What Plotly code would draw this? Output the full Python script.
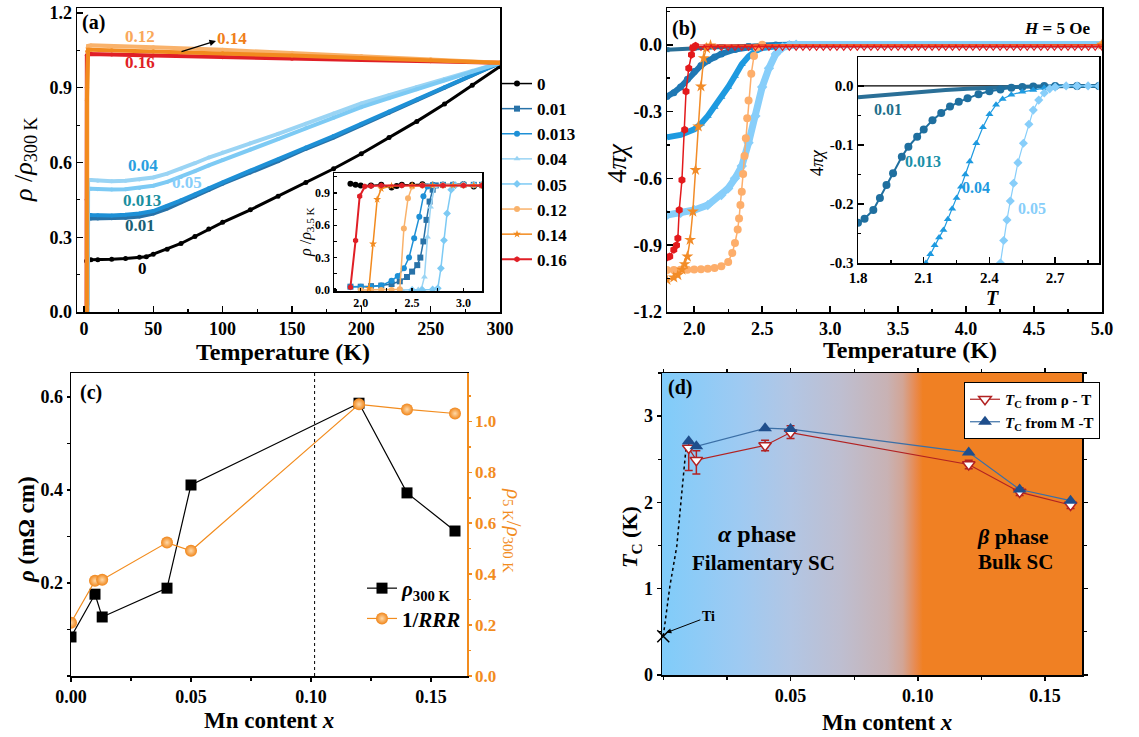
import plotly.graph_objects as go

W, H = 1139, 737
def px(x): return x / W
def py(y): return 1 - y / H

SERIF = '"Liberation Serif", "Times New Roman", Times, serif'

# ---------------- Panel (a) data: rho/rho300K vs T ----------------
labels_x = ["0", "0.01", "0.013", "0.04", "0.05", "0.12", "0.14", "0.16"]
col_a = ["#000000", "#2872A8", "#1E90D6", "#9AD4F4", "#7DCAF4", "#F9B26B", "#F28A1E", "#E01F26"]
sym_a = ["circle", "square", "circle", "triangle-up", "diamond", "circle", "star", "hexagon"]

Ta_0 = [1.9, 3, 5, 10, 20, 30, 40, 45, 50, 60, 70, 80, 90, 100, 120, 140, 160, 180, 200, 220, 240, 260, 280, 300]
Ra_0 = [0.205, 0.21, 0.21, 0.21, 0.212, 0.215, 0.22, 0.222, 0.232, 0.252, 0.275, 0.303, 0.333, 0.36, 0.41, 0.465, 0.52, 0.575, 0.635, 0.70, 0.765, 0.835, 0.91, 0.985]
Ta_001 = [1.9, 2.4, 2.6, 2.7, 3, 5, 10, 20, 30, 40, 50, 60, 70, 80, 90, 100, 120, 140, 160, 180, 200, 220, 240, 260, 280, 300]
Ra_001 = [0.01, 0.03, 0.17, 0.36, 0.375, 0.375, 0.375, 0.376, 0.378, 0.383, 0.395, 0.415, 0.44, 0.465, 0.49, 0.515, 0.56, 0.605, 0.655, 0.70, 0.75, 0.80, 0.85, 0.90, 0.95, 1.0]
Ta_0013 = [1.9, 2.3, 2.5, 2.65, 3, 5, 10, 20, 30, 40, 50, 60, 70, 80, 90, 100, 120, 140, 160, 180, 200, 220, 240, 260, 280, 300]
Ra_0013 = [0.01, 0.035, 0.18, 0.38, 0.39, 0.389, 0.388, 0.387, 0.39, 0.395, 0.405, 0.425, 0.448, 0.472, 0.497, 0.52, 0.567, 0.612, 0.66, 0.706, 0.755, 0.805, 0.853, 0.902, 0.951, 1.0]
Ta_004 = [1.9, 2.5, 2.6, 2.65, 2.75, 3, 5, 10, 20, 30, 40, 50, 60, 70, 80, 90, 100, 120, 140, 160, 180, 200, 220, 240, 260, 280, 300]
Ra_004 = [0.0, 0.0, 0.06, 0.26, 0.52, 0.53, 0.53, 0.527, 0.525, 0.527, 0.532, 0.54, 0.555, 0.575, 0.597, 0.62, 0.64, 0.677, 0.715, 0.755, 0.797, 0.837, 0.87, 0.903, 0.935, 0.968, 1.0]
Ta_005 = [1.9, 2.6, 2.78, 2.84, 2.92, 3, 5, 10, 20, 30, 40, 50, 60, 70, 80, 90, 100, 120, 140, 160, 180, 200, 220, 240, 260, 280, 300]
Ra_005 = [0.0, 0.0, 0.10, 0.35, 0.48, 0.495, 0.495, 0.493, 0.492, 0.493, 0.498, 0.507, 0.522, 0.542, 0.565, 0.588, 0.61, 0.652, 0.694, 0.737, 0.78, 0.822, 0.858, 0.894, 0.93, 0.965, 1.0]
Ta_012 = [1.9, 2.38, 2.45, 2.6, 3, 5, 20, 50, 100, 150, 200, 250, 300]
Ra_012 = [0.0, 0.01, 0.9, 1.06, 1.068, 1.07, 1.068, 1.062, 1.052, 1.04, 1.027, 1.014, 1.0]
Ta_014 = [1.9, 2.08, 2.16, 2.3, 3, 5, 20, 50, 100, 150, 200, 250, 300]
Ra_014 = [0.0, 0.01, 0.85, 1.045, 1.052, 1.052, 1.05, 1.046, 1.038, 1.029, 1.019, 1.01, 1.0]
Ta_016 = [1.9, 1.95, 2.0, 2.1, 3, 5, 20, 50, 100, 150, 200, 250, 300]
Ra_016 = [0.02, 0.45, 0.9, 1.03, 1.035, 1.035, 1.033, 1.029, 1.022, 1.016, 1.011, 1.006, 1.0]
main_a = [(Ta_0, Ra_0), (Ta_001, Ra_001), (Ta_0013, Ra_0013), (Ta_004, Ra_004),
          (Ta_005, Ra_005), (Ta_012, Ra_012), (Ta_014, Ra_014), (Ta_016, Ra_016)]
draw_order_a = [0, 1, 2, 3, 4, 7, 5, 6]

# inset (a): rho/rho3.5K near Tc
Ti_0 = [1.9, 1.95, 2.0, 2.1, 2.2, 2.3, 2.35, 2.4, 2.5, 2.6, 2.7, 2.8, 2.9, 3.0, 3.1, 3.18]
Ri_0 = [0.985, 0.975, 0.97, 0.97, 0.975, 0.95, 0.965, 0.975, 0.975, 0.98, 0.975, 0.975, 0.975, 0.98, 0.96, 0.97]
Ti_001 = [1.9, 2.0, 2.1, 2.2, 2.3, 2.38, 2.45, 2.5, 2.55, 2.58, 2.61, 2.64, 2.67, 2.7, 2.73, 2.8, 2.9, 3.0, 3.1, 3.18]
Ri_001 = [0.03, 0.03, 0.035, 0.04, 0.055, 0.08, 0.12, 0.17, 0.23, 0.30, 0.45, 0.65, 0.82, 0.93, 0.97, 0.975, 0.975, 0.975, 0.975, 0.975]
Ti_0013 = [1.9, 2.0, 2.1, 2.2, 2.3, 2.36, 2.42, 2.47, 2.52, 2.57, 2.61, 2.65, 2.7, 2.8, 2.9, 3.0, 3.1, 3.18]
Ri_0013 = [0.03, 0.03, 0.03, 0.04, 0.085, 0.13, 0.2, 0.30, 0.48, 0.68, 0.87, 0.96, 0.975, 0.975, 0.975, 0.975, 0.975, 0.975]
Ti_004 = [2.4, 2.5, 2.56, 2.59, 2.62, 2.65, 2.68, 2.72, 2.8, 2.9, 3.0, 3.1, 3.18]
Ri_004 = [0.0, 0.0, 0.003, 0.01, 0.12, 0.49, 0.77, 0.96, 0.975, 0.975, 0.975, 0.975, 0.975]
Ti_005 = [2.5, 2.6, 2.7, 2.75, 2.78, 2.81, 2.84, 2.88, 2.92, 3.0, 3.1, 3.18]
Ri_005 = [0.0, 0.0, 0.005, 0.015, 0.20, 0.46, 0.71, 0.93, 0.97, 0.975, 0.975, 0.975]
Ti_012 = [2.0, 2.1, 2.2, 2.3, 2.38, 2.42, 2.46, 2.5, 2.6, 2.8, 3.0, 3.18]
Ri_012 = [0.0, 0.0, 0.0, 0.0, 0.006, 0.57, 0.85, 0.96, 0.97, 0.97, 0.97, 0.97]
Ti_014 = [2.08, 2.12, 2.16, 2.2, 2.3, 2.5, 2.7, 2.9, 3.1, 3.18]
Ri_014 = [0.015, 0.427, 0.84, 0.94, 0.965, 0.97, 0.97, 0.97, 0.97, 0.97]
Ti_016 = [1.90, 1.95, 1.99, 2.04, 2.1, 2.2, 2.4, 2.6, 2.8, 3.0, 3.18]
Ri_016 = [0.025, 0.458, 0.87, 0.96, 0.965, 0.97, 0.97, 0.97, 0.97, 0.97, 0.97]
inset_a = [(Ti_0, Ri_0), (Ti_001, Ri_001), (Ti_0013, Ri_0013), (Ti_004, Ri_004),
           (Ti_005, Ri_005), (Ti_012, Ri_012), (Ti_014, Ri_014), (Ti_016, Ri_016)]

# ---------------- Panel (b) data: 4*pi*chi vs T ----------------
col_b = {"0.01": "#2A6F97", "0.013": "#1F78B4", "0.04": "#1E9AE0", "0.05": "#87CEFA",
         "0.12": "#FDAE6B", "0.14": "#F28C28", "0.16": "#E31A1C"}
Tb_001 = [1.8, 2.0, 2.2, 2.4, 2.6, 2.7, 5.0]
Xb_001 = [-0.022, -0.015, -0.009, -0.005, -0.002, 0.0, 0.0]
Tb_0013 = [1.8, 1.85, 1.9, 1.95, 2.0, 2.05, 2.1, 2.15, 2.2, 2.3, 2.4, 2.5, 2.6, 2.7, 5.0]
Xb_0013 = [-0.232, -0.215, -0.19, -0.155, -0.12, -0.093, -0.072, -0.055, -0.041, -0.021, -0.009, -0.003, -0.001, 0.0, 0.0]
Tb_004 = [1.8, 1.9, 2.0, 2.05, 2.1, 2.15, 2.2, 2.25, 2.3, 2.35, 2.4, 2.45, 2.5, 2.6, 2.7, 5.0]
Xb_004 = [-0.415, -0.405, -0.38, -0.355, -0.32, -0.28, -0.235, -0.19, -0.14, -0.088, -0.052, -0.028, -0.015, -0.007, 0.0, 0.0]
Tb_005 = [1.8, 1.9, 2.0, 2.1, 2.2, 2.25, 2.3, 2.35, 2.4, 2.45, 2.5, 2.55, 2.6, 2.65, 2.7, 2.75, 5.0]
Xb_005 = [-0.765, -0.755, -0.742, -0.72, -0.675, -0.645, -0.6, -0.545, -0.44, -0.32, -0.19, -0.105, -0.041, -0.012, -0.002, 0.0, 0.0]
Tb_012 = [1.8, 1.85, 1.9, 1.95, 2.0, 2.05, 2.1, 2.15, 2.2, 2.25, 2.28, 2.30, 2.32, 2.33, 2.34, 2.35, 2.36, 2.37, 2.38, 2.39, 2.40, 2.42, 2.44, 2.46, 2.5, 5.0]
Xb_012 = [-1.011, -1.011, -1.010, -1.010, -1.009, -1.008, -1.006, -1.002, -0.995, -0.975, -0.935, -0.89, -0.83, -0.78, -0.72, -0.66, -0.58, -0.5, -0.42, -0.33, -0.25, -0.13, -0.05, -0.012, 0.0, 0.0]
Tb_014 = [1.8, 1.85, 1.88, 1.91, 1.93, 1.95, 1.97, 1.99, 2.01, 2.03, 2.05, 2.07, 2.09, 2.12, 5.0]
Xb_014 = [-1.056, -1.045, -1.034, -1.01, -0.985, -0.951, -0.876, -0.749, -0.562, -0.367, -0.187, -0.06, -0.015, -0.003, 0.0]
Tb_016 = [1.8, 1.82, 1.85, 1.87, 1.88, 1.89, 1.91, 1.93, 1.94, 1.96, 1.98, 1.99, 2.01]
Xb_016 = [-0.955, -0.951, -0.921, -0.9, -0.869, -0.742, -0.607, -0.382, -0.21, -0.105, -0.045, -0.015, -0.005]
Tb_016n = [2.0, 2.05, 2.1, 2.15, 2.2, 2.25, 2.3, 2.35, 2.4, 2.45, 2.5, 2.55, 2.6, 2.65, 2.7, 2.75, 2.8, 2.85, 2.9, 2.95,
           3.0, 3.05, 3.1, 3.15, 3.2, 3.25, 3.3, 3.35, 3.4, 3.45, 3.5, 3.55, 3.6, 3.65, 3.7, 3.75, 3.8, 3.85, 3.9, 3.95,
           4.0, 4.05, 4.1, 4.15, 4.2, 4.25, 4.3, 4.35, 4.4, 4.45, 4.5, 4.55, 4.6, 4.65, 4.7, 4.75, 4.8, 4.85, 4.9, 4.95, 5.0]
Xb_016n = [-0.009] * len(Tb_016n)

# inset (b)
Tbi_001 = [1.8, 1.9, 2.0, 2.1, 2.2, 2.3, 2.4, 2.5, 2.6, 2.7, 2.8, 2.9]
Xbi_001 = [-0.019, -0.016, -0.012, -0.009, -0.007, -0.005, -0.003, -0.002, -0.001, 0.0, 0.0, 0.0]
Tbi_0013 = [1.8, 1.83, 1.87, 1.9, 1.93, 1.96, 2.0, 2.03, 2.07, 2.1, 2.14, 2.18, 2.22, 2.26, 2.3, 2.35, 2.4, 2.45, 2.5, 2.55, 2.6, 2.65, 2.7, 2.8, 2.9]
Xbi_0013 = [-0.232, -0.225, -0.21, -0.19, -0.168, -0.148, -0.12, -0.103, -0.086, -0.074, -0.058, -0.046, -0.035, -0.027, -0.021, -0.014, -0.009, -0.006, -0.003, -0.002, -0.001, 0.0, 0.0, 0.0, 0.0]
Tbi_004 = [2.11, 2.13, 2.15, 2.17, 2.19, 2.21, 2.23, 2.25, 2.27, 2.29, 2.31, 2.34, 2.37, 2.40, 2.43, 2.46, 2.5, 2.55, 2.6, 2.65, 2.7, 2.8, 2.9]
Xbi_004 = [-0.30, -0.285, -0.27, -0.257, -0.244, -0.226, -0.208, -0.19, -0.171, -0.15, -0.128, -0.097, -0.07, -0.048, -0.032, -0.022, -0.015, -0.01, -0.007, -0.003, 0.0, 0.0, 0.0]
Tbi_005 = [2.45, 2.465, 2.48, 2.495, 2.51, 2.53, 2.555, 2.58, 2.60, 2.625, 2.65, 2.675, 2.7, 2.75, 2.8, 2.85, 2.9]
Xbi_005 = [-0.30, -0.262, -0.227, -0.195, -0.165, -0.13, -0.097, -0.065, -0.041, -0.024, -0.012, -0.005, -0.002, 0.0, 0.0, 0.0, 0.0]

# ---------------- Panel (c) data ----------------
x_mn = [0.0, 0.01, 0.013, 0.04, 0.05, 0.12, 0.14, 0.16]
rho300 = [0.084, 0.176, 0.127, 0.189, 0.411, 0.587, 0.394, 0.312]
inv_rrr = [0.209, 0.374, 0.378, 0.524, 0.492, 1.067, 1.047, 1.031]
phase_boundary_x = 0.1015

# ---------------- Panel (d) data ----------------
x_tc = [0.01, 0.013, 0.04, 0.05, 0.12, 0.14, 0.16]
tc_rho = [2.63, 2.49, 2.66, 2.81, 2.44, 2.12, 1.97]
tc_rho_errp = [0.08, 0.11, 0.06, 0.08, 0.05, 0.05, 0.04]
tc_rho_errm = [0.26, 0.16, 0.06, 0.07, 0.05, 0.04, 0.04]
tc_m = [2.71, 2.65, 2.86, 2.85, 2.58, 2.15, 2.02]
ti_guide_x = [0.0, 0.0026, 0.0053, 0.0089]
ti_guide_y = [0.45, 1.03, 1.49, 2.62]
ti_x, ti_tc = 0.0, 0.45

fig = go.Figure()

# ---- (a) main
for i in draw_order_a:
    t, r = main_a[i]
    fig.add_trace(go.Scatter(x=t, y=r, mode="lines+markers", xaxis="x", yaxis="y",
                             line=dict(color=col_a[i], width=4 if i else 3),
                             marker=dict(color=col_a[i], size=4 if i else 5, symbol="circle"),
                             showlegend=False, hoverinfo="skip"))
# ---- (a) inset (also provides legend)
for i, (t, r) in enumerate(inset_a):
    fig.add_trace(go.Scatter(x=t, y=r, mode="lines+markers", xaxis="x2", yaxis="y2",
                             name=labels_x[i], legend="legend",
                             line=dict(color=col_a[i], width=1.5 if i < 7 else 2),
                             marker=dict(color=col_a[i], size=6, symbol=sym_a[i]),
                             showlegend=True))

# ---- (b) main
def addb(t, v, key, sym, size, lw, mode="lines+markers"):
    fig.add_trace(go.Scatter(x=t, y=v, mode=mode, xaxis="x3", yaxis="y3",
                             line=dict(color=col_b[key], width=lw),
                             marker=dict(color=col_b[key], size=size, symbol=sym),
                             showlegend=False, hoverinfo="skip"))
addb(Tb_001, Xb_001, "0.01", "square", 5, 4)
addb(Tb_0013, Xb_0013, "0.013", "circle", 7, 6)
addb(Tb_004, Xb_004, "0.04", "triangle-up", 7, 6)
addb(Tb_005, Xb_005, "0.05", "diamond", 8, 7)
addb(Tb_012, Xb_012, "0.12", "circle", 8, 1.5)
addb(Tb_014, Xb_014, "0.14", "star", 9, 1.5)
addb(Tb_016, Xb_016, "0.16", "hexagon", 8, 1.5)
fig.add_trace(go.Scatter(x=Tb_016n, y=Xb_016n, mode="lines+markers", xaxis="x3", yaxis="y3",
                         line=dict(color="#E31A1C", width=1.5),
                         marker=dict(color="#E31A1C", size=7, symbol="triangle-down-open", line=dict(width=1.2)),
                         showlegend=False, hoverinfo="skip"))

# ---- (b) inset
fig.add_trace(go.Scatter(x=[1.8, 2.9], y=[0, 0], mode="lines", xaxis="x4", yaxis="y4",
                         line=dict(color="black", width=1.2), showlegend=False, hoverinfo="skip"))
fig.add_trace(go.Scatter(x=Tbi_001, y=Xbi_001, mode="lines", xaxis="x4", yaxis="y4",
                         line=dict(color="#2A6F97", width=4), showlegend=False))
fig.add_trace(go.Scatter(x=Tbi_0013, y=Xbi_0013, mode="lines+markers", xaxis="x4", yaxis="y4",
                         line=dict(color="#1F6F9F", width=2),
                         marker=dict(color="#1F6F9F", size=8, symbol="circle"), showlegend=False))
fig.add_trace(go.Scatter(x=Tbi_004, y=Xbi_004, mode="lines+markers", xaxis="x4", yaxis="y4",
                         line=dict(color="#1E9AE0", width=1.2),
                         marker=dict(color="#1E9AE0", size=7, symbol="triangle-up"), showlegend=False))
fig.add_trace(go.Scatter(x=Tbi_005, y=Xbi_005, mode="lines+markers", xaxis="x4", yaxis="y4",
                         line=dict(color="#87CEFA", width=1.2),
                         marker=dict(color="#87CEFA", size=7, symbol="diamond"), showlegend=False))

# ---- (c)
fig.add_trace(go.Scatter(x=x_mn, y=rho300, mode="lines+markers", xaxis="x5", yaxis="y5",
                         name="<i>ρ</i><sub>300 K</sub>", legend="legend2",
                         line=dict(color="black", width=1.2),
                         marker=dict(color="black", size=11, symbol="square")))
fig.add_trace(go.Scatter(x=x_mn, y=inv_rrr, mode="lines+markers", xaxis="x5", yaxis="y6",
                         name="1/<i>RRR</i>", legend="legend2",
                         line=dict(color="#F28C1E", width=1.2),
                         marker=dict(color="#F08519", size=12, symbol="circle",
                                     gradient=dict(type="radial", color="#FFD9A8"))))

# ---- (d)
xd0, xd1 = -0.0005, 0.1645
fig.add_trace(go.Scatter(x=[xd0, xd1, xd1, xd0, xd0], y=[0, 0, 3.5, 3.5, 0], mode="lines",
                         xaxis="x6", yaxis="y7", fill="toself", line=dict(width=0),
                         fillgradient=dict(type="horizontal", colorscale=[
                             [0.0, "rgb(128,204,250)"], [0.185, "rgb(158,202,242)"],
                             [0.306, "rgb(178,198,228)"], [0.427, "rgb(190,190,208)"],
                             [0.536, "rgb(200,178,180)"], [0.573, "rgb(210,165,150)"],
                             [0.603, "rgb(232,138,80)"], [0.621, "rgb(240,128,35)"],
                             [1.0, "rgb(240,128,35)"]]),
                         showlegend=False, hoverinfo="skip"))
fig.add_trace(go.Scatter(x=ti_guide_x, y=ti_guide_y, mode="lines", xaxis="x6", yaxis="y7",
                         line=dict(color="black", width=1.5, dash="dot"), showlegend=False))
fig.add_trace(go.Scatter(x=[ti_x], y=[ti_tc], mode="markers", xaxis="x6", yaxis="y7",
                         marker=dict(symbol="x-thin", size=12, line=dict(color="black", width=1.5)),
                         showlegend=False, cliponaxis=False))
fig.add_trace(go.Scatter(x=x_tc, y=tc_rho, mode="lines+markers", xaxis="x6", yaxis="y7",
                         name="<i>T</i><sub>C</sub> from ρ - T", legend="legend3",
                         line=dict(color="#B22222", width=1.2),
                         error_y=dict(type="data", array=tc_rho_errp, arrayminus=tc_rho_errm,
                                      color="#B22222", thickness=1.5, width=4),
                         marker=dict(color="white", size=11, symbol="triangle-down",
                                     line=dict(color="#B22222", width=1.5))))
fig.add_trace(go.Scatter(x=x_tc, y=tc_m, mode="lines+markers", xaxis="x6", yaxis="y7",
                         name="<i>T</i><sub>C</sub> from M -T", legend="legend3",
                         line=dict(color="#3B6FA6", width=1.2),
                         marker=dict(color="#1F4E8C", size=12, symbol="triangle-up")))

# ---------------- axes ----------------
def tf(size=18, color="black"):
    return dict(family=SERIF, size=size, color=color, weight="bold")

def ax(domain, rng, ticks="inside", mirror=True, size=18, color="black", **kw):
    d = dict(domain=domain, range=rng, showline=True, linecolor=color, linewidth=1.5,
             mirror=mirror, ticks=ticks, ticklen=6, tickwidth=1.5, tickcolor=color,
             showgrid=False, zeroline=False, tickfont=tf(size, color), fixedrange=True,
             automargin=False)
    d.update(kw)
    return d

minor_in = lambda dt: dict(ticks="inside", ticklen=3, tickwidth=1.2, tickcolor="black", dtick=dt)
minor_out = lambda dt: dict(ticks="outside", ticklen=3, tickwidth=1.2, tickcolor="black", dtick=dt)

fig.update_layout(
    template="none",
    width=W, height=H, margin=dict(l=0, r=0, t=0, b=0, pad=0),
    paper_bgcolor="white", plot_bgcolor="rgba(0,0,0,0)",
    font=dict(family=SERIF, size=18, color="black", weight="bold"),
    xaxis=ax([px(77), px(500)], [-5, 300], anchor="y", tick0=0, dtick=50, minor=minor_in(25)),
    yaxis=ax([py(312), py(8)], [0, 1.22], anchor="x", tick0=0, dtick=0.3, tickformat=".1f", minor=minor_in(0.15)),
    xaxis2=ax([px(334), px(482)], [1.74, 3.18], anchor="y2", size=12, tick0=2.0, dtick=0.5, tickformat=".1f", ticklen=3, minor=minor_in(0.25)),
    yaxis2=ax([py(291), py(173)], [-0.01, 1.085], anchor="x2", size=12, tick0=0, dtick=0.3, tickformat=".1f", ticklen=3, minor=minor_in(0.15)),
    xaxis3=ax([px(667), px(1102)], [1.8, 5.0], anchor="y3", tick0=2.0, dtick=0.5, tickformat=".1f", minor=minor_in(0.25)),
    yaxis3=ax([py(312), py(8)], [-1.2, 0.165], anchor="x3", tickvals=[0, -0.3, -0.6, -0.9, -1.2],
              ticktext=["0.0", "-0.3", "-0.6", "-0.9", "-1.2"],
              minor=dict(ticks="inside", ticklen=3, tickcolor="black", tickvals=[0.15, -0.15, -0.45, -0.75, -1.05])),
    xaxis4=ax([px(858), px(1099)], [1.8, 2.9], anchor="y4", size=15, tickvals=[1.8, 2.1, 2.4, 2.7],
              ticktext=["1.8", "2.1", "2.4", "2.7"], minor=dict(ticks="inside", ticklen=3, tickcolor="black", tickvals=[1.95, 2.25, 2.55, 2.85])),
    yaxis4=ax([py(263), py(57)], [-0.3, 0.049], anchor="x4", size=15, tickvals=[0, -0.1, -0.2, -0.3],
              ticktext=["0.0", "-0.1", "-0.2", "-0.3"], minor=dict(ticks="inside", ticklen=3, tickcolor="black", tickvals=[-0.05, -0.15, -0.25])),
    xaxis5=ax([px(71), px(467)], [0, 0.165], anchor="y5", ticks="outside", ticklen=4, size=18, tickvals=[0, 0.05, 0.1, 0.15],
              ticktext=["0.00", "0.05", "0.10", "0.15"], minor=minor_out(0.025)),
    yaxis5=ax([py(676), py(373)], [0, 0.652], anchor="x5", ticks="outside", ticklen=3, mirror=False,
              tickvals=[0.2, 0.4, 0.6], ticktext=["0.2", "0.4", "0.6"], minor=minor_out(0.1)),
    yaxis6=ax([py(676), py(373)], [0, 1.19], anchor="x5", overlaying="y5", side="right", ticks="outside",
              ticklen=3, size=17, mirror=False, color="#F28C1E", tick0=0, dtick=0.2, tickformat=".1f",
              minor=dict(ticks="outside", ticklen=2, tickcolor="#F28C1E", dtick=0.1)),
    xaxis6=ax([px(662), px(1082)], [xd0, xd1], anchor="y7", ticks="outside", ticklen=4, mirror="ticks",
              tickvals=[0.05, 0.1, 0.15], ticktext=["0.05", "0.10", "0.15"], minor=minor_out(0.025)),
    yaxis7=ax([py(675), py(373)], [0, 3.5], anchor="x6", ticks="outside", ticklen=4, mirror="ticks",
              tickvals=[0, 1, 2, 3], ticktext=["0", "1", "2", "3"], minor=minor_out(0.5)),
    legend=dict(x=px(497), y=py(66), xanchor="left", yanchor="top", font=tf(17),
                bgcolor="rgba(0,0,0,0)", itemwidth=30, tracegroupgap=0),
    legend2=dict(x=px(362), y=py(568), xanchor="left", yanchor="top", font=tf(21),
                 bgcolor="rgba(0,0,0,0)", itemwidth=30),
    legend3=dict(x=px(964), y=py(382), xanchor="left", yanchor="top", font=tf(15),
                 bgcolor="white", bordercolor="black", borderwidth=1, itemwidth=30),
)

# shapes: phase boundary in (c), legend shadow in (d)
fig.add_shape(type="line", xref="x5", yref="y5 domain", x0=phase_boundary_x, x1=phase_boundary_x, y0=0, y1=1,
              line=dict(color="black", width=1, dash="dot"))
fig.add_shape(type="rect", xref="paper", yref="paper", x0=px(968), x1=px(1078), y0=py(435), y1=py(388),
              fillcolor="black", line=dict(width=0), layer="above")

# ---------------- annotations ----------------
def note(x, y, text, size=18, color="black", angle=0, weight="bold", xanchor="center"):
    fig.add_annotation(x=px(x), y=py(y), xref="paper", yref="paper", text=text, showarrow=False,
                       textangle=angle, xanchor=xanchor, yanchor="middle",
                       font=dict(family=SERIF, size=size, color=color, weight=weight))

note(80, 23, "(a)", 20, xanchor="left")
note(670, 28, "(b)", 20, xanchor="left")
note(78, 392, "(c)", 20, xanchor="left")
note(666, 387, "(d)", 20, xanchor="left")
note(1092, 28, "<i>H</i> = 5 Oe", 17, xanchor="right")

note(283, 352, "Temperature (K)", 24)
note(910, 350, "Temperature (K)", 24)
note(269, 720, "Mn content <i>x</i>", 23)
note(887, 722, "Mn content <i>x</i>", 23)
note(25, 160, "<i>ρ</i> /<i>ρ</i><sub>300 K</sub>", 26, angle=-90, weight="normal")
note(306, 232, "<i>ρ</i> /<i>ρ</i><sub>3.5 K</sub>", 16, angle=-90, weight="normal")
note(617, 163, "4<i>π</i><i>χ</i>", 27, angle=-90, weight="normal")
note(817, 163, "4<i>π</i><i>χ</i>", 18, angle=-90, weight="normal")
note(993, 298, "<i>T</i>", 20)
note(26, 530, "<i>ρ</i> (mΩ cm)", 23, angle=-90)
note(513, 530, "<i>ρ</i><sub>5 K</sub>/<i>ρ</i><sub>300 K</sub>", 21, color="#F28C1E", angle=90, weight="normal")
note(631, 537, "<i>T</i><sub>C</sub> (K)", 22, angle=-90)

# curve labels in (a)
note(140, 37, "0.12", 17, "#F9A85A")
note(232, 39, "0.14", 17, "#F07F1A")
note(140, 62, "0.16", 17, "#E01F26")
note(143, 166, "0.04", 17, "#2A9FE0")
note(187, 183, "0.05", 17, "#87CEFA")
note(142, 200, "0.013", 17, "#1A8FA0")
note(140, 225, "0.01", 17, "#1A5F75")
note(142, 268, "0", 17)
fig.add_annotation(x=px(216), y=py(41), xref="paper", yref="paper", ax=-36, ay=11, text="",
                   showarrow=True, arrowhead=2, arrowsize=1, arrowwidth=1.3, arrowcolor="black")

# inset (b) labels
note(888, 110, "0.01", 16, "#1F6F8B")
note(923, 161, "0.013", 16, "#1A8FA8")
note(976, 188, "0.04", 16, "#1E9AE0")
note(1032, 208, "0.05", 16, "#87CEFA")

# (d) texts
note(757, 534, "<i>α</i> phase", 24)
note(763, 563, "Filamentary SC", 21)
note(1013, 536, "<i>β</i> phase", 22)
note(1015, 562, "Bulk SC", 21)
fig.add_annotation(x=ti_x + 0.0012, y=ti_tc + 0.04, xref="x6", yref="y7", text="Ti", showarrow=True,
                   ax=42, ay=-16, arrowhead=2, arrowsize=1, arrowwidth=1, arrowcolor="black",
                   font=dict(family=SERIF, size=14, color="black", weight="bold"))

fig.write_html("out.html", config={"displayModeBar": False, "staticPlot": True},
               post_script="document.body.style.margin='0px';document.body.style.padding='0px';")
